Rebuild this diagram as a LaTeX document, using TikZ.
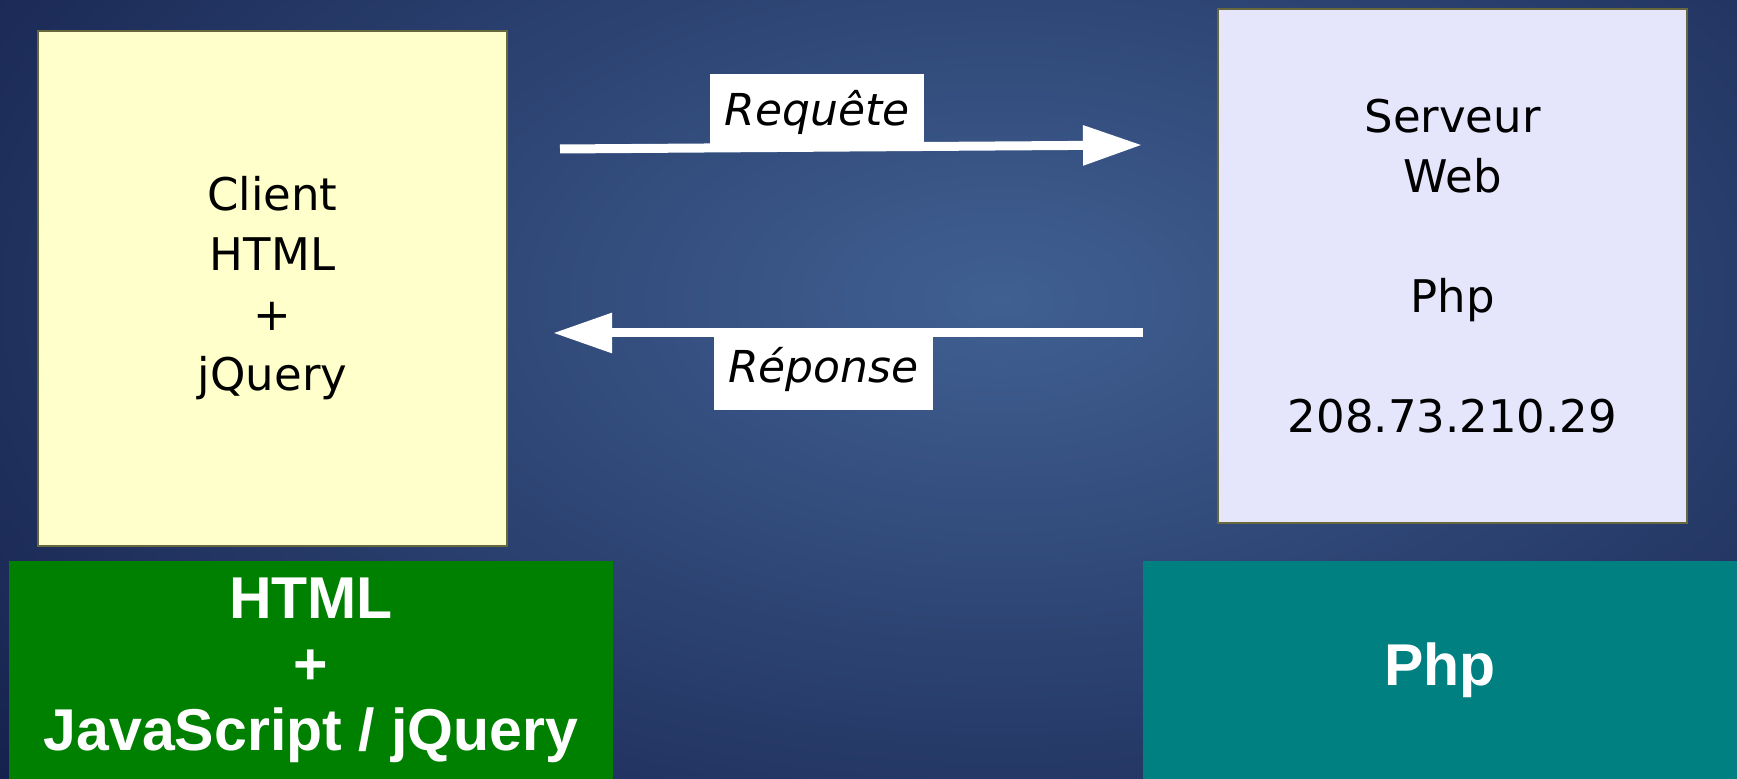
\documentclass[tikz,border=0pt]{standalone}
\usepackage{fontspec}
\setmainfont{DejaVu Sans}
\newfontfamily\barfont{Liberation Sans}
\usetikzlibrary{arrows.meta}

\definecolor{bgout}{RGB}{17,27,70}
\definecolor{bgin}{RGB}{64,96,146}
\definecolor{clientyellow}{RGB}{255,255,204}
\definecolor{serverlav}{RGB}{229,229,251}
\definecolor{boxedge}{RGB}{104,104,62}
\definecolor{htmlgreen}{RGB}{0,128,0}
\definecolor{phpteal}{RGB}{0,128,128}

\tikzset{
  box/.style={draw=boxedge, line width=1.2pt, align=center, inner sep=0pt,
    font=\fontsize{22.5}{30}\selectfont},
  bar/.style={align=center, inner sep=0pt, text=white,
    font=\barfont\bfseries\fontsize{29.5}{33}\selectfont},
  tag/.style={fill=white, inner sep=0pt, font=\itshape\fontsize{22}{26}\selectfont},
  flow/.style={white, line width=4.5pt, -{Triangle[length=29.5pt,width=19pt]}}
}

\begin{document}
\begin{tikzpicture}[x=0.5pt,y=-0.5pt]
\def\picw{1737}
\def\pich{779}

\useasboundingbox (0,0) rectangle (\picw,\pich);
% background
\begin{scope}
\clip (0,0) rectangle (\picw,\pich);
\fill[bgout] (0,0) rectangle (\picw,\pich);
\shade[inner color=bgin, outer color=bgout] (1000,300) ellipse [x radius=1450, y radius=820];
\end{scope}

% boxes
\node[box, fill=clientyellow, minimum width=234.5pt, minimum height=257.5pt] (client) at (272.5,288.5)
  {Client\\HTML\\+\\jQuery};
\node[box, fill=serverlav, minimum width=234.5pt, minimum height=257pt] (serveur) at (1452.5,266)
  {Serveur\\Web\\[30pt]Php\\[30pt]208.73.210.29};

% bottom bars
\node[bar, fill=htmlgreen, minimum width=302pt, minimum height=109pt] (htmlbar) at (311,670)
  {HTML\\+\\JavaScript / jQuery};
\node[bar, fill=phpteal, minimum width=297pt, minimum height=109pt] (phpbar) at (1440,670) {Php};

% arrows
\coordinate (reqstart) at (560,149);
\coordinate (reqend) at (1142,145);
\coordinate (repstart) at (1143,333);
\coordinate (repend) at (553,333);
\draw[flow] (reqstart) -- (reqend);
\draw[flow] (repstart) -- (repend);

\node[tag, minimum width=107pt, minimum height=38pt] (requete) at (817,112) {Requête};
\node[tag, minimum width=109.5pt, minimum height=40.5pt] (reponse) at (823.5,369.5) {Réponse};

\end{tikzpicture}
\end{document}
